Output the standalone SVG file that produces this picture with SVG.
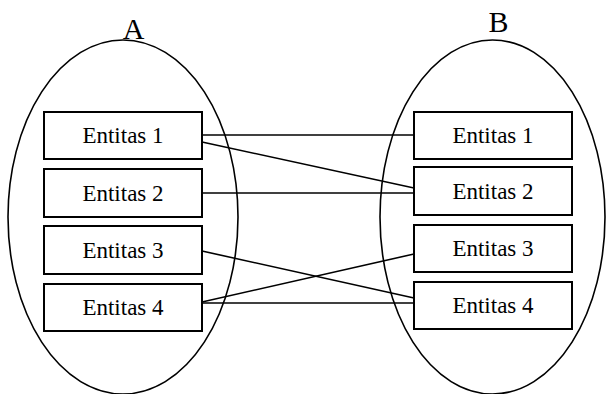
<svg xmlns="http://www.w3.org/2000/svg" width="606" height="394" viewBox="0 0 606 394">
<style>
.set{fill:none;stroke:#000;stroke-width:1.6}
.box{fill:#fff;stroke:#000;stroke-width:2}
.lbl{font-family:"Liberation Serif","Times New Roman",serif;font-size:23px;fill:#000;text-anchor:middle}
.title{font-family:"Liberation Serif","Times New Roman",serif;font-size:30px;fill:#000;text-anchor:middle}
.con{stroke:#000;stroke-width:1.6;fill:none}
</style>
<rect width="606" height="394" fill="#fff"/>
<g id="setA">
<ellipse class="set" cx="123" cy="217" rx="115" ry="177"/>
<text class="title" x="133.5" y="39">A</text>
</g>
<g id="setB">
<ellipse class="set" cx="492.5" cy="217" rx="112.5" ry="177"/>
<text class="title" x="498.5" y="32">B</text>
</g>
<g id="connectors">
<line class="con" x1="202" y1="135" x2="414" y2="135"/>
<line class="con" x1="202" y1="142" x2="414" y2="188"/>
<line class="con" x1="202" y1="193" x2="414" y2="193"/>
<line class="con" x1="202" y1="251" x2="414" y2="298"/>
<line class="con" x1="202" y1="302" x2="414" y2="254"/>
<line class="con" x1="202" y1="303" x2="414" y2="303"/>
</g>
<g id="a1"><rect class="box" x="44" y="112" width="158" height="47"/><text class="lbl" x="123" y="143">Entitas 1</text></g>
<g id="a2"><rect class="box" x="44" y="169" width="158" height="48"/><text class="lbl" x="123" y="201">Entitas 2</text></g>
<g id="a3"><rect class="box" x="44" y="226" width="158" height="48"/><text class="lbl" x="123" y="258">Entitas 3</text></g>
<g id="a4"><rect class="box" x="44" y="284" width="158" height="47"/><text class="lbl" x="123" y="315">Entitas 4</text></g>
<g id="b1"><rect class="box" x="414" y="112" width="158" height="47"/><text class="lbl" x="493" y="143">Entitas 1</text></g>
<g id="b2"><rect class="box" x="414" y="167" width="158" height="48"/><text class="lbl" x="493" y="199">Entitas 2</text></g>
<g id="b3"><rect class="box" x="414" y="225" width="158" height="47"/><text class="lbl" x="493" y="256">Entitas 3</text></g>
<g id="b4"><rect class="box" x="414" y="282" width="158" height="47"/><text class="lbl" x="493" y="313">Entitas 4</text></g>
</svg>
